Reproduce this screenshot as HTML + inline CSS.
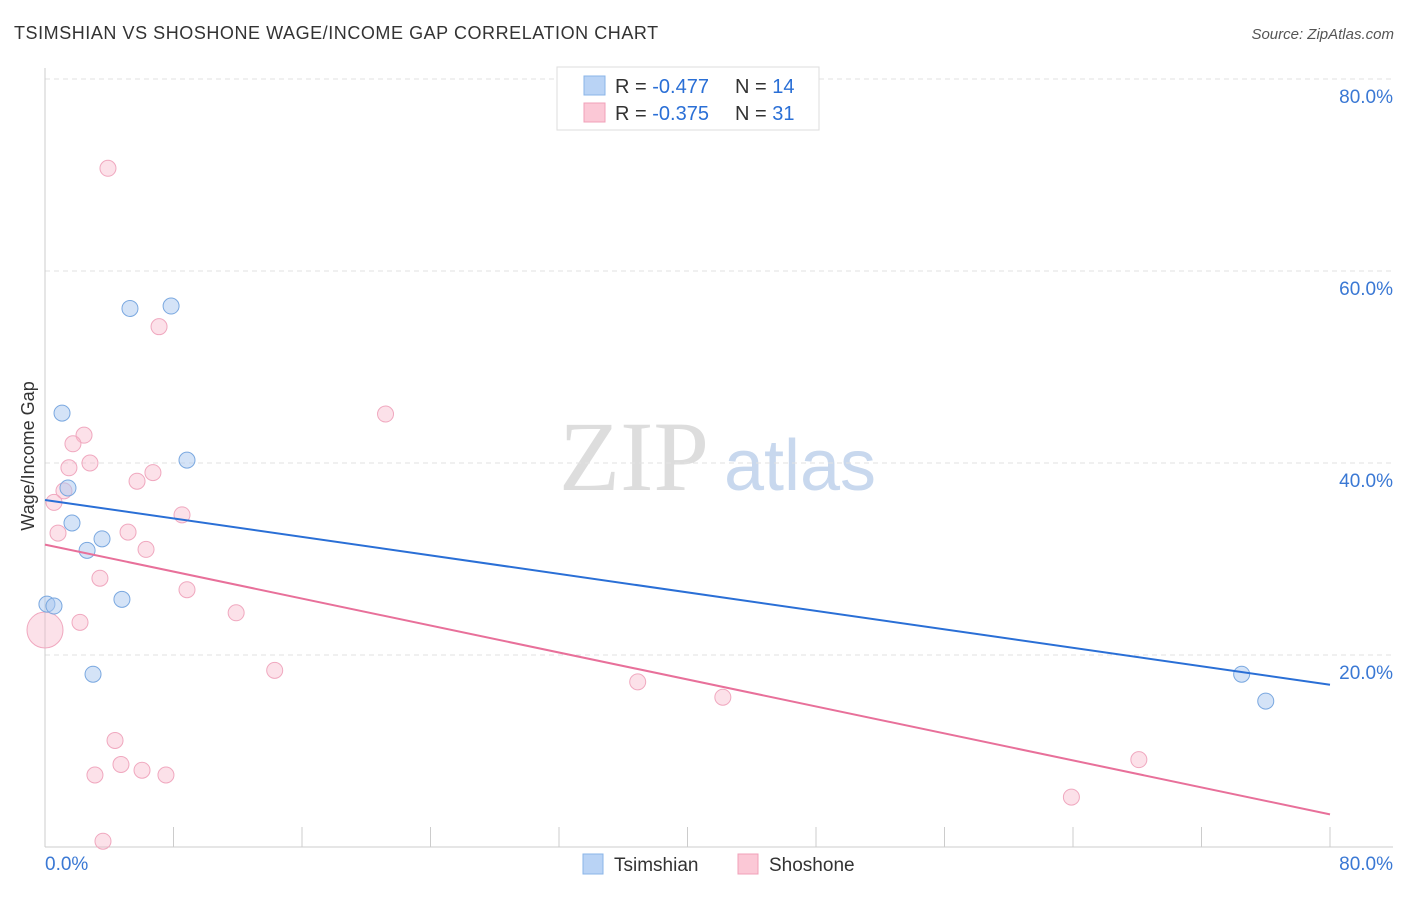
<!DOCTYPE html>
<html><head><meta charset="utf-8"><style>
body{margin:0;background:#fff;font-family:"Liberation Sans",sans-serif;}
svg text{font-family:"Liberation Sans",sans-serif;}
svg text.serif{font-family:"Liberation Serif",serif;}
</style></head><body>
<svg id="c" width="1406" height="892">
<text x="14" y="39" font-size="18" fill="#333" letter-spacing="0.55">TSIMSHIAN VS SHOSHONE WAGE/INCOME GAP CORRELATION CHART</text>
<text x="1394" y="39" font-size="15" font-style="italic" fill="#555" text-anchor="end">Source: ZipAtlas.com</text>
<text class="serif" x="634" y="490" font-size="100" fill="#ddd" text-anchor="middle">ZIP</text>
<text x="800" y="490" font-size="72" fill="#c8d8ee" text-anchor="middle">atlas</text>
<text transform="translate(34,456) rotate(-90)" font-size="18" fill="#333" text-anchor="middle">Wage/Income Gap</text>
<g id="grid"></g><g id="pts"></g><g id="lines"></g>
<rect x="557" y="67" width="262" height="63" fill="#fff" stroke="#ddd"/>
<rect x="584" y="76" width="21" height="19" fill="#b9d3f5" stroke="#8ab4e8"/>
<rect x="584" y="103" width="21" height="19" fill="#fbc8d6" stroke="#f0a0b8"/>
<text x="615" y="93" font-size="20" fill="#333">R =  <tspan fill="#2a6fd6">-0.477</tspan></text>
<text x="735" y="93" font-size="20" fill="#333">N = <tspan fill="#2a6fd6">14</tspan></text>
<text x="615" y="120" font-size="20" fill="#333">R =  <tspan fill="#2a6fd6">-0.375</tspan></text>
<text x="735" y="120" font-size="20" fill="#333">N = <tspan fill="#2a6fd6"> 31</tspan></text>
<rect x="583" y="854" width="20" height="20" fill="#b9d3f5" stroke="#8ab4e8"/>
<text x="614" y="871" font-size="19" fill="#333">Tsimshian</text>
<rect x="738" y="854" width="20" height="20" fill="#fbc8d6" stroke="#f0a0b8"/>
<text x="769" y="871" font-size="19" fill="#333">Shoshone</text>
</svg>
<script>
const blueX=[0.12,0.56,1.06,1.43,1.68,2.62,3.55,4.79,2.99,5.29,7.85,8.84,74.5,76.0];
const blueY=[25.3,25.1,45.2,37.4,33.75,30.9,32.1,25.8,18.0,56.1,56.35,40.3,18.0,15.2];
const pinkX=[3.92,7.1,21.2,2.43,1.74,2.8,1.49,6.72,5.73,1.18,0.56,8.53,0.81,5.17,6.29,3.42,8.84,11.9,2.18,0,14.3,36.9,42.2,4.36,4.73,3.11,6.04,7.53,3.61,63.9,68.1];
const pinkY=[70.7,54.2,45.1,42.9,42.0,40.0,39.5,39.0,38.1,37.1,35.9,34.6,32.7,32.8,31.0,28.0,26.8,24.4,23.4,22.6,18.4,17.2,15.6,11.1,8.6,7.5,8.0,7.5,0.6,5.2,9.1];
const blueTrend=[36.15,16.9];
const pinkTrend=[31.5,3.4];
const yTicks=[20,40,60,80];
const yTickLabels=["20.0%","40.0%","60.0%","80.0%"];
const xTicks=[0,8,16,24,32,40,48,56,64,72,80];
const NS="http://www.w3.org/2000/svg";
const sx=v=>45+v*16.0625, sy=v=>847-v*9.6;
function mk(p,t,a){const e=document.createElementNS(NS,t);for(const k in a)e.setAttribute(k,a[k]);p.appendChild(e);return e;}
const g=document.getElementById('grid'),P=document.getElementById('pts'),L=document.getElementById('lines');
yTicks.forEach((v,i)=>{
 const l=mk(g,'line',{x1:45,x2:1393,y1:sy(v),y2:sy(v),stroke:'#e2e2e2','stroke-dasharray':'5,4'});
 
 
 const t=mk(g,'text',{x:1393,y:sy(v)+24,'font-size':19,fill:'#3a78d4','text-anchor':'end'});t.textContent=yTickLabels[i];
 
 
});
const ax=mk(g,'line',{x1:45,x2:45,y1:68,y2:847,stroke:'#ccc'});


const bx=mk(g,'line',{x1:45,x2:1393,y1:847,y2:847,stroke:'#ccc'});


xTicks.forEach(v=>{const l=mk(g,'line',{x1:sx(v),x2:sx(v),y1:827,y2:847,stroke:'#ccc'});
 
 });
const t0=mk(g,'text',{x:45,y:870,'font-size':19,fill:'#3a78d4'});t0.textContent='0.0%';


const t1=mk(g,'text',{x:1393,y:870,'font-size':19,fill:'#3a78d4','text-anchor':'end'});t1.textContent='80.0%';


pinkX.forEach((x,i)=>{const c=mk(P,'circle',{cx:sx(x),cy:sy(pinkY[i]),r:x===0?18:8,fill:'rgba(248,180,200,0.4)',stroke:'#f0a8bf'});
 
 });
blueX.forEach((x,i)=>{const c=mk(P,'circle',{cx:sx(x),cy:sy(blueY[i]),r:8,fill:'rgba(170,200,240,0.5)',stroke:'#7aa8e0'});
 
 });
const lb=mk(L,'line',{x1:sx(0),y1:sy(blueTrend[0]),x2:sx(80),y2:sy(blueTrend[1]),stroke:'#2a6fd6','stroke-width':2});


const lp=mk(L,'line',{x1:sx(0),y1:sy(pinkTrend[0]),x2:sx(80),y2:sy(pinkTrend[1]),stroke:'#e8709a','stroke-width':2});


</script>
</body></html>
